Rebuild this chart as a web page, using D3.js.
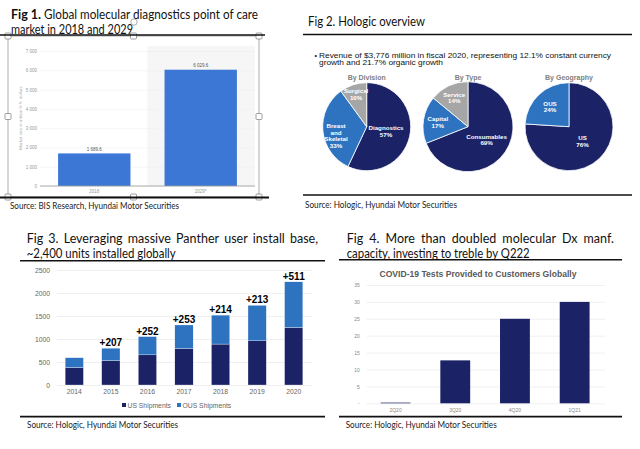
<!DOCTYPE html>
<html><head><meta charset="utf-8">
<script src="https://cdn.jsdelivr.net/npm/d3@7"></script>
<style>body{margin:0;background:#fff}svg{display:block}</style>
</head><body>
<svg id="c" width="640" height="449"></svg>
<script>
// ---------- DATA ----------
const fig1Categories = ["2018", "2029*"];
const fig1Values = [1689.6, 6029.6];
const fig1ValueLabels = ["1 689.6", "6 029.6"];
const fig1Ticks = [0, 1000, 2000, 3000, 4000, 5000, 6000, 7000];

const divisionLabels = [["Diagnostics", "57%"], ["Breast", "and", "Skeletal", "33%"], ["Surgical", "10%"]];
const divisionValues = [57, 33, 10];
const typeLabels = [["Consumables", "69%"], ["Capital", "17%"], ["Service", "14%"]];
const typeValues = [69, 17, 14];
const geoLabels = [["US", "76%"], ["OUS", "24%"]];
const geoValues = [76, 24];
const pieTitles = ["By Division", "By Type", "By Geography"];

const fig3Years = ["2014", "2015", "2016", "2017", "2018", "2019", "2020"];
const fig3US = [380, 530, 655, 790, 890, 960, 1250];
const fig3OUS = [213, 270, 397, 515, 629, 772, 993];
const fig3Added = ["", "+207", "+252", "+253", "+214", "+213", "+511"];
const fig3Ticks = [0, 500, 1000, 1500, 2000, 2500];
const fig3Series = ["US Shipments", "OUS Shipments"];

const fig4Quarters = ["2Q20", "3Q20", "4Q20", "1Q21"];
const fig4Values = [0.2, 12.7, 25, 30];
const fig4Ticks = [0, 5, 10, 15, 20, 25, 30, 35];

// ---------- STYLE ----------
const CAL = "Lato, 'Open Sans', sans-serif";
const ARI = "'Liberation Sans', Arial, sans-serif";
const NAVY = "#1b2266", BLUE = "#2e73c0", GREY = "#a6a6a6";
const svg = d3.select("#c");
svg.append("rect").attr("width", 640).attr("height", 449).attr("fill", "#fff");

function text(g, x, y, s, o = {}) {
  const t = g.append("text").attr("x", x).attr("y", y).text(s)
    .attr("font-family", o.font || CAL).attr("font-size", o.size || 12)
    .attr("fill", o.fill || "#111").attr("dominant-baseline", o.base || "central")
    .attr("text-anchor", o.anchor || "start");
  if (o.weight) t.attr("font-weight", o.weight);
  if (o.len) t.attr("textLength", o.len).attr("lengthAdjust", "spacingAndGlyphs");
  return t;
}
function justify(g, s, x0, x1, y, o) {
  const words = s.split(" ");
  const nodes = words.map(w => text(g, 0, y, w, o));
  const widths = nodes.map(n => n.node().getComputedTextLength());
  const gap = (x1 - x0 - d3.sum(widths)) / (words.length - 1);
  let x = x0;
  nodes.forEach((n, i) => { n.attr("x", x); x += widths[i] + gap; });
}
function hline(x0, x1, y, w = 1.5, c = "#111") {
  svg.append("line").attr("x1", x0).attr("x2", x1).attr("y1", y).attr("y2", y)
    .attr("stroke", c).attr("stroke-width", w);
}

// ---------- FIG 1 ----------
{
  const g = svg.append("g");
  text(g, 11, 13, "Fig 1.", { size: 14, len: 30, weight: "bold" });
  text(g, 44, 13, "Global molecular diagnostics point of care", { size: 14, len: 214 });
  text(g, 11, 28.5, "market in 2018 and 2029", { size: 14, len: 122 });
  g.append("circle").attr("cx", 134).attr("cy", 22).attr("r", 3.2).attr("fill", "#fff").attr("stroke", "#888").attr("stroke-width", 0.7);

  const x = d3.scaleBand().domain(fig1Categories).range([40, 255]).paddingInner(0.32).paddingOuter(0.17);
  const y = d3.scaleLinear().domain([0, 7000]).range([186, 51]);
  // forecast shading
  const shadeX = x("2029*") - x.step() * x.paddingInner() / 2;
  g.append("rect").attr("x", shadeX).attr("y", 46)
    .attr("width", 255 - shadeX).attr("height", 186 - 46).attr("fill", "#f6f6f6");
  const ax = g.append("g").attr("transform", "translate(40,0)")
    .call(d3.axisLeft(y).tickValues(fig1Ticks).tickSize(-215).tickFormat(d => d3.format(",")(d).replace(/,/g, " ")));
  ax.select(".domain").remove();
  ax.selectAll("line").attr("stroke", "#efefef").attr("stroke-width", 0.6);
  ax.selectAll("text").attr("font-family", ARI).attr("font-size", 4.5).attr("fill", "#999").attr("x", -3);
  g.selectAll(".b1").data(fig1Values).join("rect")
    .attr("x", (d, i) => x(fig1Categories[i])).attr("y", d => y(d))
    .attr("width", x.bandwidth()).attr("height", d => 186 - y(d)).attr("fill", "#3c77d6");
  fig1Values.forEach((d, i) => text(g, x(fig1Categories[i]) + x.bandwidth() / 2, y(d) - 4, fig1ValueLabels[i], { font: ARI, size: 4.5, fill: "#555", anchor: "middle" }));
  hline(40, 255, 186, 0.8, "#999");
  const bx = g.append("g").attr("transform", "translate(0,186)").call(d3.axisBottom(x).tickSize(0));
  bx.select(".domain").remove();
  bx.selectAll("text").attr("font-family", ARI).attr("font-size", 4.5).attr("fill", "#999").attr("dy", "0.9em");
  text(g, 20.7, 118, "Market size in million U.S. dollars", { font: ARI, size: 4.3, fill: "#aaa", anchor: "middle" })
    .attr("transform", "rotate(-90,20.7,118)");
  // selection frame + handles
  g.append("rect").attr("x", 8).attr("y", 36).attr("width", 251).attr("height", 161).attr("fill", "none").attr("stroke", "#999").attr("stroke-width", 0.8);
  hline(0, 265, 35, 1.3);
  hline(0, 269, 197.5, 2);
  [[8, 36], [133.5, 36], [259, 36], [8, 116.5], [259, 116.5], [8, 197], [133.5, 197], [259, 197]].forEach(([hx, hy]) =>
    g.append("rect").attr("x", hx - 3).attr("y", hy - 3).attr("width", 6).attr("height", 6).attr("rx", 1)
      .attr("fill", "#fff").attr("stroke", "#777").attr("stroke-width", 0.7));
  text(g, 10, 205.7, "Source: BIS Research, Hyundai Motor Securities", { size: 9, len: 169, fill: "#222" });
}

// ---------- FIG 2 ----------
{
  const g = svg.append("g");
  text(g, 308, 20, "Fig 2. Hologic overview", { size: 14, len: 117 });
  hline(303, 632, 34.5, 1.5);
  text(g, 314.5, 55, "•", { font: ARI, size: 7, fill: "#111" });
  text(g, 319, 55, "Revenue of $3,776 million in fiscal 2020, representing 12.1% constant currency", { font: ARI, size: 8, len: 292, fill: "#111" });
  text(g, 319, 62.8, "growth and 21.7% organic growth", { font: ARI, size: 8, len: 124, fill: "#111" });
  const pies = [
    { cx: 366.7, r: 44, vals: divisionValues, labs: divisionLabels, k: [0.45, 0.7, 0.78], dy: [0, 6, 0] },
    { cx: 468, r: 45, vals: typeValues, labs: typeLabels, k: [0.5, 0.68, 0.72], dy: [0, 0, 0] },
    { cx: 569, r: 44, vals: geoValues, labs: geoLabels, k: [0.45, 0.63, 0], dy: [0, 0, 0] }
  ];
  const cols = [NAVY, BLUE, GREY];
  const cy = 126.7;
  pies.forEach((p, pi) => {
    text(g, p.cx, 77.7, pieTitles[pi], { font: ARI, size: 7, weight: "bold", fill: "#7f7f7f", anchor: "middle" });
    const arcs = d3.pie().sort(null)(p.vals);
    const arc = d3.arc().innerRadius(0).outerRadius(p.r);
    const pg = g.append("g").attr("transform", `translate(${p.cx},${cy})`);
    pg.selectAll("path").data(arcs).join("path").attr("d", arc).attr("fill", (d, i) => cols[i])
      .attr("stroke", "#fff").attr("stroke-width", 0.8);
    arcs.forEach((a, i) => {
      const la = d3.arc().innerRadius(p.r * p.k[i]).outerRadius(p.r * p.k[i]);
      const [lx, ly] = la.centroid(a);
      const lines = p.labs[i];
      const lh = 6.6;
      lines.forEach((s, j) => text(pg, lx, ly + p.dy[i] + (j - (lines.length - 1) / 2) * lh, s,
        { font: ARI, size: 6.2, weight: "bold", fill: "#fff", anchor: "middle" }));
    });
  });
  hline(303, 632, 195, 1.5);
  text(g, 305, 204.3, "Source: Hologic, Hyundai Motor Securities", { size: 9, len: 152, fill: "#222" });
}

// ---------- FIG 3 ----------
{
  const g = svg.append("g");
  justify(g, "Fig 3. Leveraging massive Panther user install base,", 26.7, 318, 238.8, { size: 12.5 });
  text(g, 26.7, 253.5, "~2,400 units installed globally", { size: 12.5, len: 149 });
  hline(20, 325, 260.7, 1.5);
  const x = d3.scaleBand().domain(fig3Years).range([56, 312]).paddingInner(0.5).paddingOuter(0.25);
  const y = d3.scaleLinear().domain([0, 2500]).range([385, 270]);
  const ax = g.append("g").attr("transform", "translate(57,0)")
    .call(d3.axisLeft(y).tickValues(fig3Ticks).tickSize(-255).tickFormat(d3.format("d")));
  ax.select(".domain").remove();
  ax.selectAll("line").attr("stroke", "#ebebeb").attr("stroke-width", 0.8);
  ax.selectAll("text").attr("font-family", ARI).attr("font-size", 6.8).attr("fill", "#666").attr("x", -7);
  const stack = d3.stack().keys([0, 1]).value((d, k) => d[k])(fig3Years.map((yr, i) => [fig3US[i], fig3OUS[i]]));
  const cols = [NAVY, BLUE];
  stack.forEach((s, k) => {
    g.selectAll(".s" + k).data(s).join("rect")
      .attr("x", (d, i) => x(fig3Years[i])).attr("y", d => y(d[1]))
      .attr("width", x.bandwidth()).attr("height", d => y(d[0]) - y(d[1]))
      .attr("fill", cols[k]).attr("stroke", "#fff").attr("stroke-width", 0.3);
  });
  stack[1].forEach((d, i) => {
    if (fig3Added[i]) text(g, x(fig3Years[i]) + x.bandwidth() / 2, y(d[1]) - 2, fig3Added[i],
      { font: ARI, size: 10, weight: "bold", fill: "#000", anchor: "middle", base: "alphabetic" });
  });
  const bx = g.append("g").attr("transform", "translate(0,385)").call(d3.axisBottom(x).tickSize(0));
  bx.select(".domain").remove();
  bx.selectAll("text").attr("font-family", ARI).attr("font-size", 6.8).attr("fill", "#666").attr("dy", "0.95em");
  const lx = [122, 177];
  fig3Series.forEach((s, k) => {
    g.append("rect").attr("x", lx[k]).attr("y", 403).attr("width", 4).attr("height", 4).attr("fill", cols[k]);
    text(g, lx[k] + 5.5, 405.3, s, { font: ARI, size: 6.8, fill: "#666" });
  });
  hline(20, 325, 416.7, 1.8);
  text(g, 27, 424, "Source: Hologic, Hyundai Motor Securities", { size: 9, len: 151, fill: "#222" });
}

// ---------- FIG 4 ----------
{
  const g = svg.append("g");
  justify(g, "Fig 4. More than doubled molecular Dx manf.", 346.7, 614, 238.8, { size: 12.5 });
  text(g, 346.7, 253.5, "capacity, investing to treble by Q222", { size: 12.5, len: 183 });
  hline(339, 622, 259.7, 1.5);
  text(g, 478, 274.3, "COVID-19 Tests Provided to Customers Globally", { font: ARI, size: 8.6, weight: "bold", fill: "#595959", anchor: "middle" });
  const x = d3.scaleBand().domain(fig4Quarters).range([365.7, 604.5]).paddingInner(0.5).paddingOuter(0.25);
  const y = d3.scaleLinear().domain([0, 35]).range([403.3, 285]);
  const ax = g.append("g").attr("transform", "translate(366.7,0)")
    .call(d3.axisLeft(y).tickValues(fig4Ticks).tickSize(-238.3).tickFormat(d => d === 0 ? "-" : d));
  ax.select(".domain").remove();
  ax.selectAll("line").attr("stroke", "#ececec").attr("stroke-width", 0.8);
  ax.selectAll("text").attr("font-family", ARI).attr("font-size", 5).attr("fill", "#888").attr("x", -7);
  g.selectAll(".b4").data(fig4Values).join("rect")
    .attr("x", (d, i) => x(fig4Quarters[i])).attr("y", d => y(d))
    .attr("width", x.bandwidth()).attr("height", d => 403.3 - y(d)).attr("fill", NAVY);
  const bx = g.append("g").attr("transform", "translate(0,403.3)").call(d3.axisBottom(x).tickSize(0));
  bx.select(".domain").remove();
  bx.selectAll("text").attr("font-family", ARI).attr("font-size", 5).attr("fill", "#888").attr("dy", "1.1em");
  hline(339, 622, 416.7, 1.8);
  text(g, 345.7, 424, "Source: Hologic, Hyundai Motor Securities", { size: 9, len: 151, fill: "#222" });
}
</script>
</body></html>
